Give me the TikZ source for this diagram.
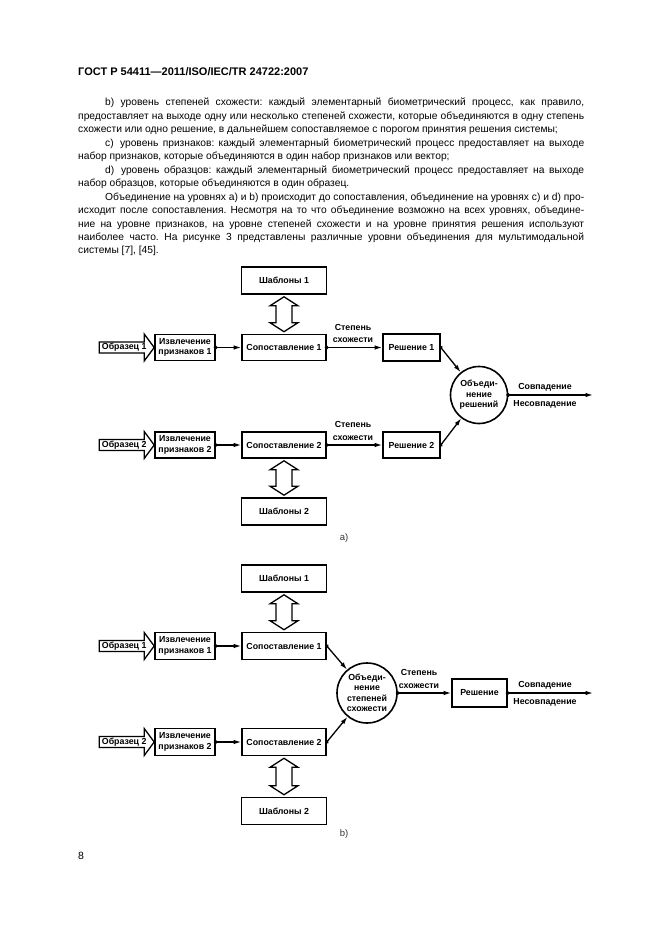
\documentclass[tikz,border=0pt]{standalone}
\usepackage{fontspec}
\setmainfont{Liberation Sans}
\usetikzlibrary{arrows.meta,calc}
\frenchspacing
\newcommand{\bodyf}{\fontsize{10.25}{13.45}\selectfont\frenchspacing}
\newcommand{\diaf}{\fontsize{8.8}{10.5}\selectfont\bfseries}
\newcommand{\labf}{\fontsize{8.8}{12.5}\selectfont\bfseries}
\newcommand{\dbl}[2]{%
  \draw[hol] ($(#1.south)+(0,2)$) -- ++(14,9) -- ++(-6,0) -- ($(#2.north)+(8,-11)$) -- ++(6,0) -- ($(#2.north)+(0,-2)$) -- ++(-14,-9) -- ++(6,0) -- ($(#1.south)+(-8,11)$) -- ++(-6,0) -- cycle;}
\newcommand{\obr}[3]{%
  \node[font=\diaf, inner sep=0pt] (#1) at ($(#2.west)+(-30,0)$) {#3};
  \draw[hol] (#2.west) -- ++(-10,-13.5) -- ++(0,8) -- ++(-45,0) -- ++(0,11) -- ++(45,0) -- ++(0,8) -- cycle;}
\begin{document}
\begin{tikzpicture}[x=1pt,y=-1pt,
  box/.style={draw, line width=1.6pt, inner sep=0pt, align=center, font=\diaf},
  circ/.style={draw, circle, line width=1.6pt, inner sep=0pt, align=center, font=\diaf},
  hol/.style={draw, line width=1.3pt, line join=miter},
  conn/.style={line width=1.3pt, shorten <=-1.8pt, {Circle[length=3.6pt]}-{Latex[length=7.5pt,width=4.5pt]}},
  lab/.style={font=\labf, align=center, inner sep=0pt},
  tl/.style={anchor=base west, inner sep=0pt, font=\bodyf}]
\useasboundingbox (0,0) rectangle (661,936);
\fill[white] (0,0) rectangle (661,936);

% header and text
\node[anchor=base west, inner sep=0pt, font=\fontsize{11}{13}\selectfont\bfseries] (hdr) at (78,76) {ГОСТ Р 54411—2011/ISO/IEC/TR 24722:2007};
\node[tl] (l1) at (105,106) {\makebox[479pt][s]{b) уровень степеней схожести: каждый элементарный биометрический процесс, как правило,}};
\node[tl] (l2) at (78,119.45) {\makebox[506pt][s]{предоставляет на выходе одну или несколько степеней схожести, которые объединяются в одну степень}};
\node[tl] (l3) at (78,132.9) {схожести или одно решение, в дальнейшем сопоставляемое с порогом принятия решения системы;};
\node[tl] (l4) at (105,146.35) {\makebox[479pt][s]{c)\hspace{2pt} уровень признаков: каждый элементарный биометрический процесс предоставляет на выходе}};
\node[tl] (l5) at (78,159.8) {набор признаков, которые объединяются в один набор признаков или вектор;};
\node[tl] (l6) at (105,173.25) {\makebox[479pt][s]{d)\hspace{2pt} уровень образцов: каждый элементарный биометрический процесс предоставляет на выходе}};
\node[tl] (l7) at (78,186.7) {набор образцов, которые объединяются в один образец.};
\node[tl] (l8) at (105,200.15) {\makebox[479pt][s]{Объединение на уровнях a) и b) происходит до сопоставления, объединение на уровнях c) и d) про-}};
\node[tl] (l9) at (78,213.6) {\makebox[506pt][s]{исходит после сопоставления. Несмотря на то что объединение возможно на всех уровнях, объедине-}};
\node[tl] (l10) at (78,227.05) {\makebox[506pt][s]{ние на уровне признаков, на уровне степеней схожести и на уровне принятия решения используют}};
\node[tl] (l11) at (78,240.5) {\makebox[506pt][s]{наиболее часто. На рисунке 3 представлены различные уровни объединения для мультимодальной}};
\node[tl] (l12) at (78,253.95) {системы [7], [45].};

% ---------- diagram a ----------
\node[box, minimum width=85pt, minimum height=27pt] (sh1a) at (284,280.5) {Шаблоны 1};
\node[box, minimum width=84pt, minimum height=26pt] (sop1a) at (284,347.5) {Сопоставление 1};
\node[box, minimum width=60pt, minimum height=26pt] (izv1a) at (185,347.5) {Извлечение\\признаков 1};
\node[box, minimum width=57pt, minimum height=27pt] (resh1a) at (411.5,347.5) {Решение 1};
\node[circ, minimum size=57pt] (circa) at (479,395) {Объеди-\\нение\\решений};
\node[box, minimum width=57pt, minimum height=26pt] (resh2a) at (411.5,445) {Решение 2};
\node[box, minimum width=84pt, minimum height=26pt] (sop2a) at (284,445) {Сопоставление 2};
\node[box, minimum width=60pt, minimum height=26pt] (izv2a) at (185,445) {Извлечение\\признаков 2};
\node[box, minimum width=85pt, minimum height=27pt] (sh2a) at (284,511.5) {Шаблоны 2};

\dbl{sh1a}{sop1a}
\dbl{sop2a}{sh2a}
\obr{obr1a}{izv1a}{Образец 1}
\obr{obr2a}{izv2a}{Образец 2}

\draw[conn] (izv1a.east) -- (sop1a.west);
\draw[conn] (sop1a.east) -- (resh1a.west);
\draw[conn] (resh1a.east) -- (circa);
\draw[conn] (izv2a.east) -- (sop2a.west);
\draw[conn] (sop2a.east) -- (resh2a.west);
\draw[conn] (resh2a.east) -- (circa);
\coordinate (outa) at (593,395);
\draw[conn] (circa.east) -- (outa);

\node[lab] (st1a) at (353,333.5) {Степень\\схожести};
\node[lab] (st2a) at (353,431) {Степень\\схожести};
\node[lab] (sva) at (545,387) {Совпадение};
\node[lab] (nsva) at (545,404) {Несовпадение};
\node[font=\fontsize{9.5}{11}\selectfont, text=black!80, inner sep=0pt] (capa) at (344,538) {a)};

% ---------- diagram b ----------
\node[box, minimum width=85pt, minimum height=27pt] (sh1b) at (284,578.5) {Шаблоны 1};
\node[box, minimum width=84pt, minimum height=27pt] (sop1b) at (284,646) {Сопоставление 1};
\node[box, minimum width=60pt, minimum height=27pt] (izv1b) at (185,646) {Извлечение\\признаков 1};
\node[circ, minimum size=60pt] (circb) at (367,693) {Объеди-\\нение\\степеней\\схожести};
\node[box, minimum width=55pt, minimum height=28pt] (reshb) at (479.5,693) {Решение};
\node[box, minimum width=84pt, minimum height=27pt] (sop2b) at (284,742) {Сопоставление 2};
\node[box, minimum width=60pt, minimum height=27pt] (izv2b) at (185,742) {Извлечение\\признаков 2};
\node[box, minimum width=85pt, minimum height=27pt] (sh2b) at (284,811) {Шаблоны 2};

\dbl{sh1b}{sop1b}
\dbl{sop2b}{sh2b}
\obr{obr1b}{izv1b}{Образец 1}
\obr{obr2b}{izv2b}{Образец 2}

\draw[conn] (izv1b.east) -- (sop1b.west);
\draw[conn] (izv2b.east) -- (sop2b.west);
\draw[conn] (sop1b.east) -- (circb);
\draw[conn] (sop2b.east) -- (circb);
\draw[conn] (circb.east) -- (reshb.west);
\coordinate (outb) at (593,693);
\draw[conn] (reshb.east) -- (outb);

\node[lab] (stb) at (419,679) {Степень\\схожести};
\node[lab] (svb) at (545,685) {Совпадение};
\node[lab] (nsvb) at (545,702) {Несовпадение};
\node[font=\fontsize{9.5}{11}\selectfont, text=black!80, inner sep=0pt] (capb) at (344,834) {b)};

\node[anchor=base west, inner sep=0pt, font=\fontsize{10.5}{12}\selectfont] (pg) at (78,859) {8};
\end{tikzpicture}
\end{document}
